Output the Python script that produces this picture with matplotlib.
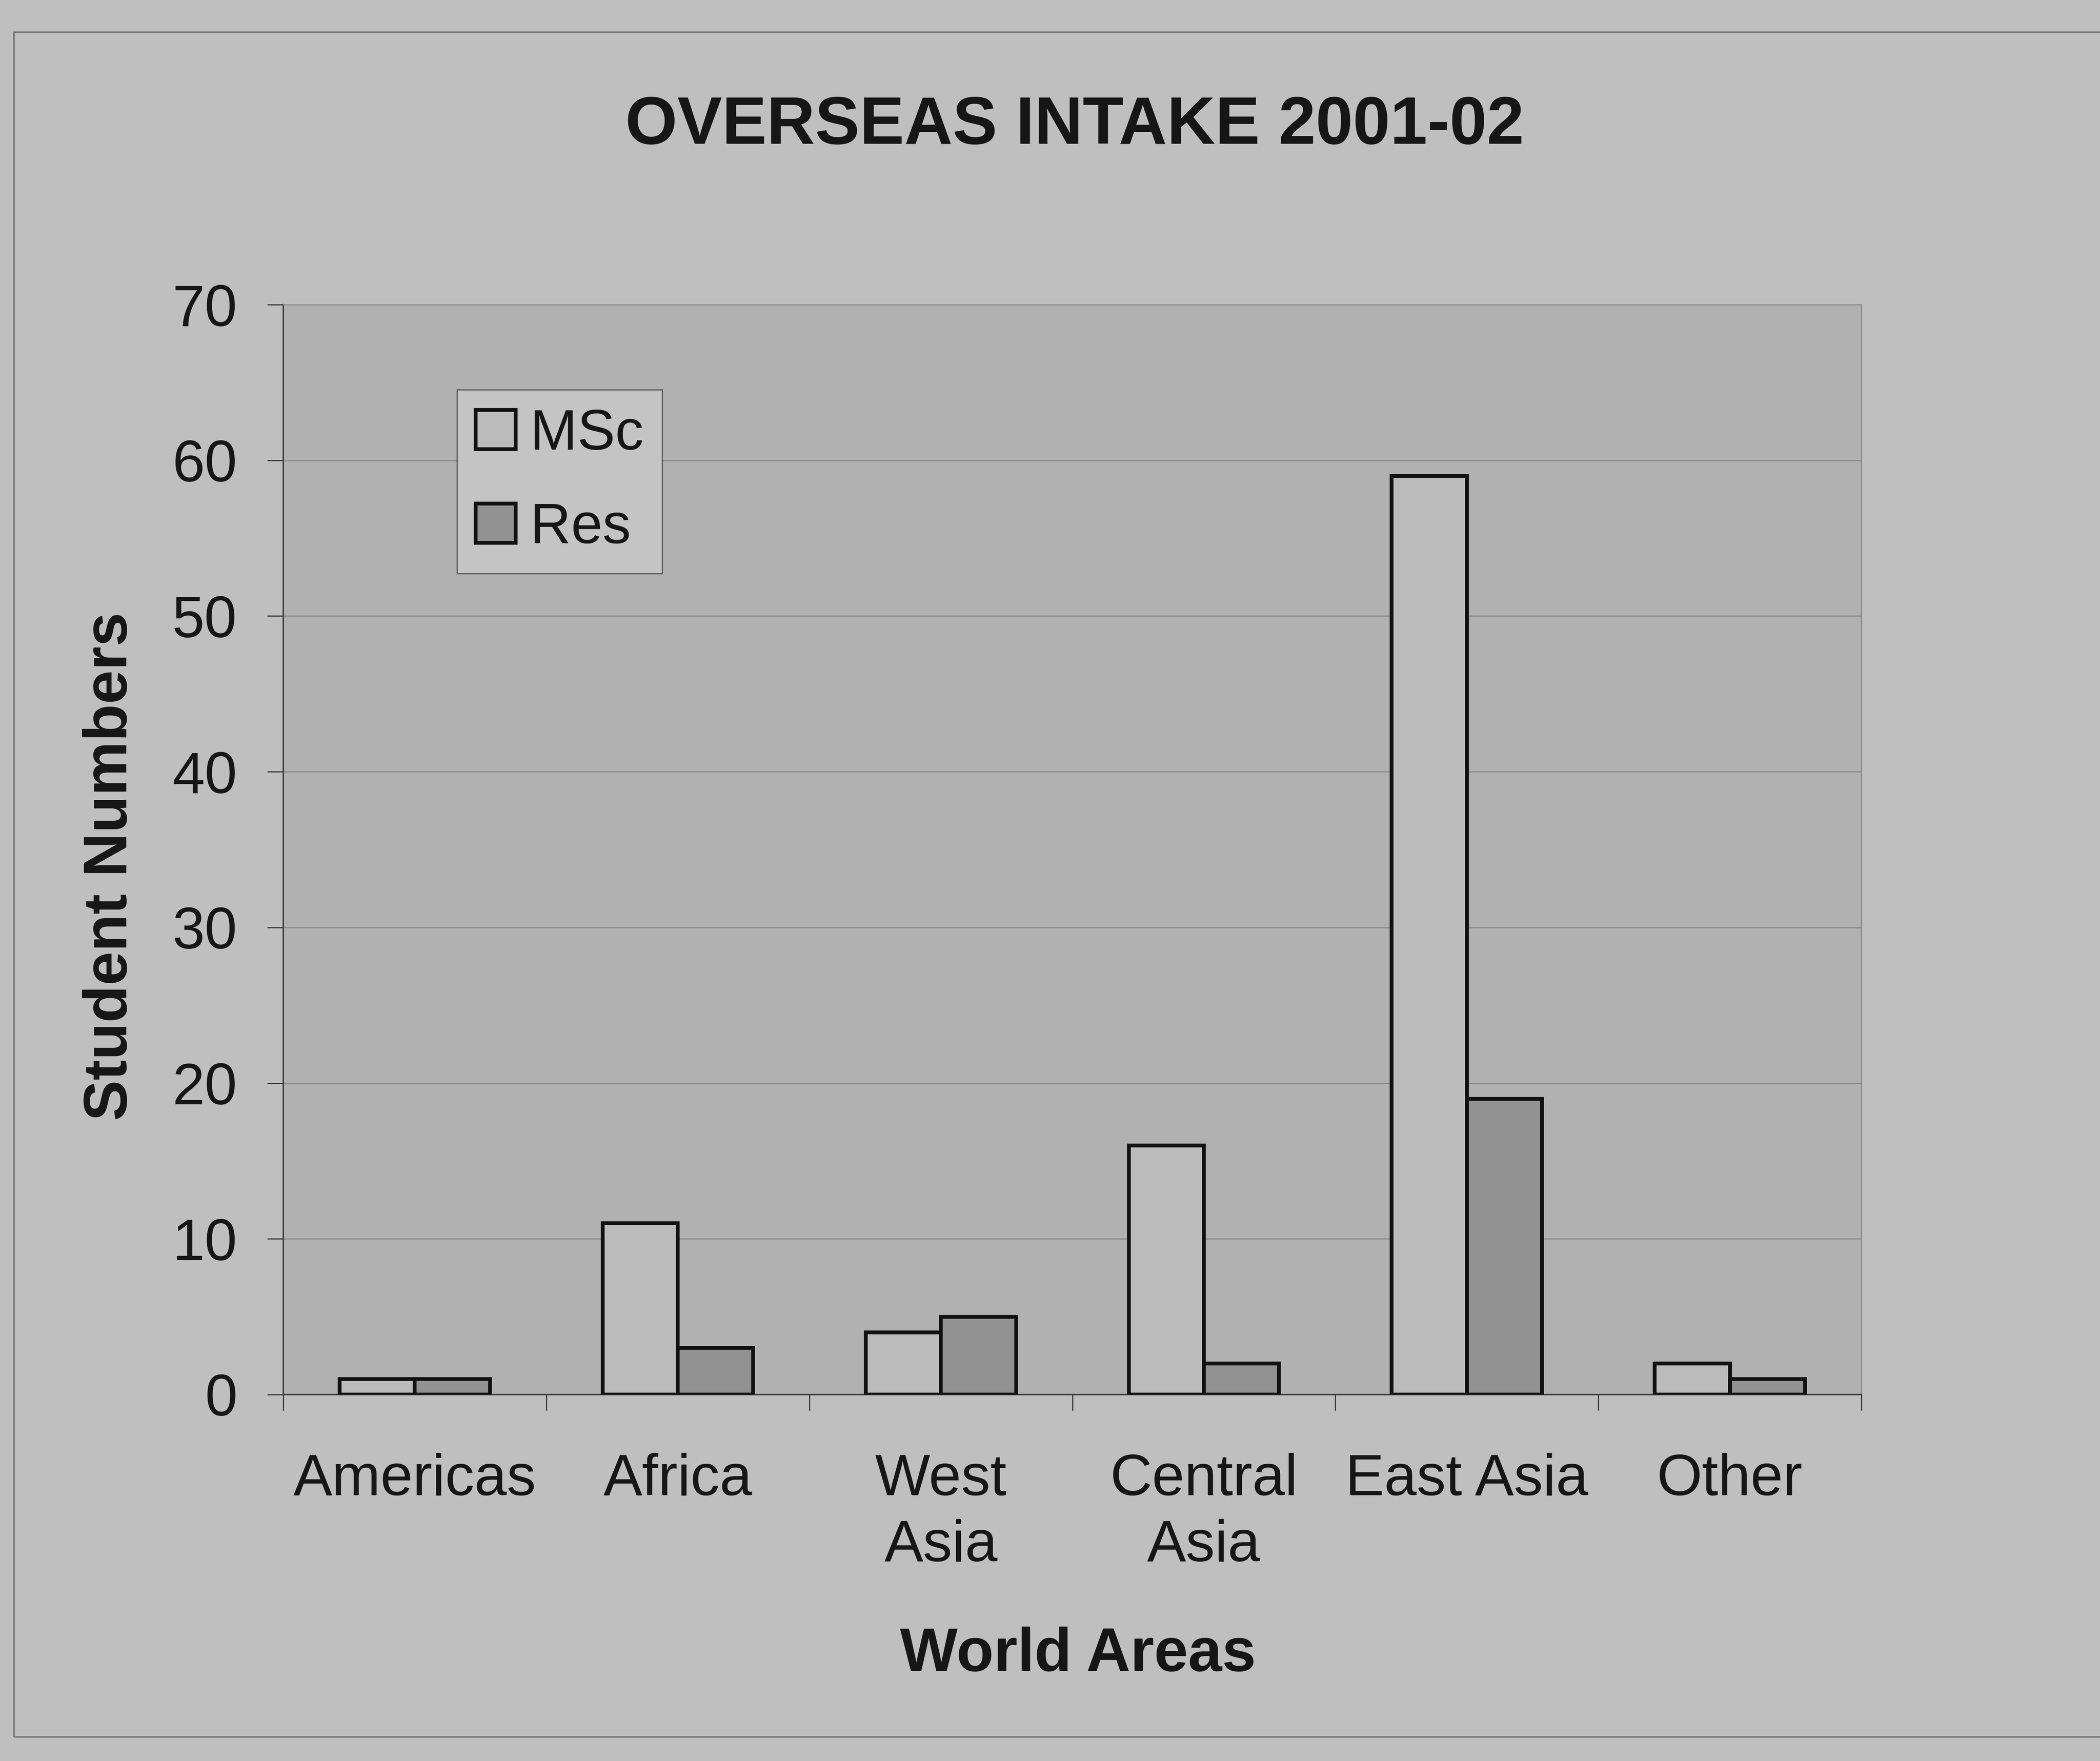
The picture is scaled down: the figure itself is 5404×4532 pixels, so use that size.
import numpy as np
import matplotlib
matplotlib.use("Agg")
import matplotlib.pyplot as plt
from matplotlib.patches import Rectangle

# Overseas intake by world area, 2001-02
areas = ["Americas", "Africa", "West\nAsia", "Central\nAsia", "East Asia", "Other"]
msc = [1, 11, 4, 16, 59, 2]
res = [1, 3, 5, 2, 19, 1]
y_ticks = [0, 10, 20, 30, 40, 50, 60, 70]

PAGE = "#bfbfbf"
PLOT_BG = "#b1b1b1"
MSC_FILL = "#bbbbbb"
RES_FILL = "#929292"
INK = "#161616"

plt.rcParams["font.family"] = ["Liberation Sans", "DejaVu Sans"]

DPI = 100
fig = plt.figure(figsize=(5404 / DPI, 4532 / DPI), dpi=DPI, facecolor=PAGE)

# outer chart frame (runs off the right edge)
fig.patches.append(Rectangle((36 / 5404, 1 - 4470 / 4532), 1.2, (4470 - 83) / 4532,
                             transform=fig.transFigure, fill=False,
                             edgecolor="#7a7a7a", linewidth=3))

ax = fig.add_axes([0.1349, 0.2081, 0.8864 - 0.1349, 0.827 - 0.2081])
ax.set_facecolor(PLOT_BG)

x = np.arange(len(areas))
w = 1 / 3.5  # 150% gap width
ax.bar(x - w / 2, msc, w, color=MSC_FILL, edgecolor="#111111", linewidth=7, label="MSc", zorder=3)
ax.bar(x + w / 2, res, w, color=RES_FILL, edgecolor="#111111", linewidth=7, label="Res", zorder=3)

ax.set_xlim(-0.5, len(areas) - 0.5)
ax.set_ylim(0, 70)
ax.set_yticks(y_ticks)
ax.set_yticklabels([str(v) for v in y_ticks])
ax.yaxis.grid(True, color="#8c8c8c", linewidth=2.2, zorder=0)
ax.set_axisbelow(True)

# category boundaries carry the tick marks, labels sit at the centres
ax.set_xticks(np.arange(-0.5, len(areas)), minor=False)
ax.set_xticklabels([])
ax.set_xticks(x, minor=True)
ax.set_xticklabels(areas, minor=True, fontsize=108, color=INK, linespacing=1.28)
ax.tick_params(axis="x", which="major", direction="out", length=29.5, width=2.2, color="#3a3a3a")
ax.tick_params(axis="x", which="minor", length=0, pad=108)
ax.tick_params(axis="y", direction="out", length=29.5, width=2.2, color="#3a3a3a",
               labelsize=108, labelcolor=INK, pad=56)

for side in ("left", "bottom"):
    ax.spines[side].set_color("#3a3a3a")
    ax.spines[side].set_linewidth(2.6)
for side in ("top", "right"):
    ax.spines[side].set_color("#8c8c8c")
    ax.spines[side].set_linewidth(2.2)

leg = ax.legend(loc="upper left", bbox_to_anchor=(0.110, 0.922), fontsize=105,
                frameon=True, fancybox=False, framealpha=1, facecolor="#c4c4c4",
                edgecolor="#5a5a5a", handlelength=0.71, handleheight=0.69,
                handletextpad=0.25, borderpad=0.33, labelspacing=0.72,
                borderaxespad=0)
leg.get_frame().set_linewidth(2.2)
for t in leg.get_texts():
    t.set_color(INK)

fig.text(2765 / 5404, 1 - 370 / 4532, "OVERSEAS INTAKE 2001-02", ha="center", va="baseline",
         fontsize=124, fontweight="bold", color=INK)
fig.text(2774 / 5404, 1 - 4300 / 4532, "World Areas", ha="center", va="baseline",
         fontsize=113, fontweight="bold", color=INK)
fig.text(286 / 5404, 1 - 2230 / 4532, "Student Numbers", ha="center", va="center",
         rotation=90, fontsize=113, fontweight="bold", color=INK)

fig.savefig("out.png", dpi=DPI, facecolor=PAGE)
